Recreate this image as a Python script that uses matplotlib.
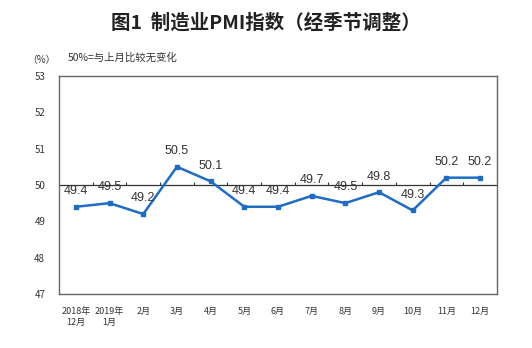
import numpy as np
import matplotlib.pyplot as plt

plt.rcParams['font.family'] = ['Noto Sans CJK SC', 'DejaVu Sans']

# === DATA ===
months = ["2018年\n12月", "2019年\n1月", "2月", "3月", "4月", "5月", "6月",
          "7月", "8月", "9月", "10月", "11月", "12月"]
pmi = [49.4, 49.5, 49.2, 50.5, 50.1, 49.4, 49.4, 49.7, 49.5, 49.8, 49.3, 50.2, 50.2]
yticks = [47, 48, 49, 50, 51, 52, 53]

x = np.arange(len(months))

fig = plt.figure(figsize=(5.32, 3.48), dpi=100)
ax = fig.add_axes([0.111, 0.155, 0.823, 0.627])

ax.plot(x, pmi, color="#1f6cc4", lw=1.8, marker="s", ms=3.5, zorder=3)

for xi, v in zip(x, pmi):
    ax.annotate(f"{v:.1f}", (xi, v), xytext=(0, 7), textcoords="offset points",
                ha="center", va="bottom", fontsize=9, color="#333333",
                family="Liberation Sans")

# 50 line with small ticks between months
ax.axhline(50, color="#333333", lw=0.9, zorder=2)
ax.vlines(np.arange(0.5, len(months) - 1, 1), 50, 50.08, color="#333333", lw=0.8)

ax.set_xlim(-0.5, len(months) - 0.5)
ax.set_ylim(47, 53)
ax.set_yticks(yticks)
ax.set_yticklabels([str(t) for t in yticks], fontsize=7, color="#333333")
ax.set_xticks(x)
ax.set_xticklabels(months, fontsize=6.5, color="#333333", linespacing=1.3)
ax.tick_params(axis="x", length=0, pad=9)
ax.tick_params(axis="y", length=0, pad=10)

for sp in ax.spines.values():
    sp.set_color("#666666")
    sp.set_linewidth(1.0)

fig.text(0.5, 0.935, "图1  制造业PMI指数（经季节调整）", ha="center", va="center",
         fontsize=14, fontweight="bold", color="#222222")
fig.text(0.077, 0.828, "（%）", ha="center", va="center", fontsize=7, color="#333333")
fig.text(0.128, 0.835, "50%=与上月比较无变化", ha="left", va="center", fontsize=7.5, color="#333333")

fig.savefig("out.png", dpi=100)
